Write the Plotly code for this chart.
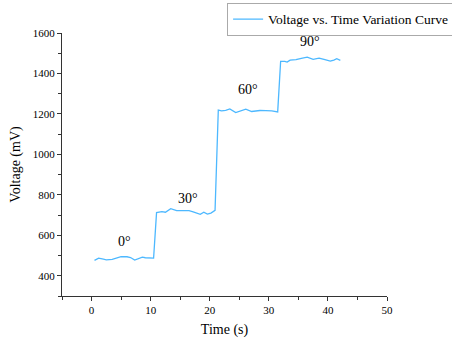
import plotly.graph_objects as go

time_s = [0.5, 1.2, 2.0, 2.5, 3.5, 4.5, 5.0, 6.0, 6.6, 7.3, 8.0, 8.6, 9.1, 9.8, 10.5,
          11.0, 11.9, 12.5, 13.4, 14.4, 15.5, 16.5, 17.2, 17.8, 18.4, 19.0, 19.6, 20.2, 20.9,
          21.45, 22.0, 22.7, 23.4, 24.4, 25.2, 26.1, 27.1, 28.5, 29.5, 30.5, 31.5,
          32.0, 32.7, 33.1, 33.6, 34.6, 35.5, 36.5, 37.5, 38.5, 39.5, 40.4, 41.0, 41.5, 42.1]
voltage_mv = [476, 487, 482, 479, 481, 489, 494, 494, 490, 478, 487, 492, 489, 487, 487,
              712, 717, 714, 732, 722, 722, 722, 716, 709, 704, 714, 705, 710, 723,
              1219, 1215, 1218, 1225, 1207, 1215, 1224, 1212, 1217, 1216, 1215, 1210,
              1460, 1460, 1456, 1466, 1468, 1475, 1481, 1470, 1476, 1468, 1461, 1466, 1473, 1465]

label_text = ["0°", "30°", "60°", "90°"]
label_t = [5.5, 16.4, 26.4, 37.0]
label_v = [571, 784, 1319, 1560]

font_family = "Liberation Serif"

fig = go.Figure()
fig.add_trace(go.Scatter(x=time_s, y=voltage_mv, mode="lines",
                         line=dict(color="#4db8ff", width=1.3),
                         name="Voltage vs. Time Variation Curve"))

for txt, t, v in zip(label_text, label_t, label_v):
    fig.add_annotation(x=t, y=v, text=txt, showarrow=False,
                       font=dict(family=font_family, size=14, color="black"))

axis_common = dict(showline=True, linecolor="#333333", linewidth=1.3, ticks="outside",
                   ticklen=4, tickwidth=1.2, tickcolor="#333333", showgrid=False, zeroline=False,
                   tickfont=dict(family=font_family, size=11, color="black"),
                   mirror=False)

fig.update_xaxes(range=[-5, 50], dtick=10, tick0=0,
                 minor=dict(dtick=5, tick0=0, ticks="outside", ticklen=3, tickcolor="#333333"),
                 title=dict(text="Time (s)", font=dict(family=font_family, size=14, color="black"), standoff=8),
                 **axis_common)
fig.update_yaxes(range=[300, 1600], dtick=200, tick0=0,
                 minor=dict(dtick=100, tick0=0, ticks="outside", ticklen=3, tickcolor="#333333"),
                 title=dict(text="Voltage (mV)", font=dict(family=font_family, size=14, color="black"), standoff=8),
                 **axis_common)

fig.update_layout(
    width=452, height=342,
    margin=dict(l=62, r=65, t=33, b=46, autoexpand=False),
    plot_bgcolor="white", paper_bgcolor="white",
    showlegend=True,
    legend=dict(x=0.508, y=1.115, xanchor="left", yanchor="top",
                bordercolor="#aaaaaa", borderwidth=1, bgcolor="white",
                font=dict(family=font_family, size=13.5, color="black"),
                itemwidth=30, tracegroupgap=0),
)

fig.write_html("out.html", config={"displayModeBar": False},
               post_script="document.body.style.margin='0';")
